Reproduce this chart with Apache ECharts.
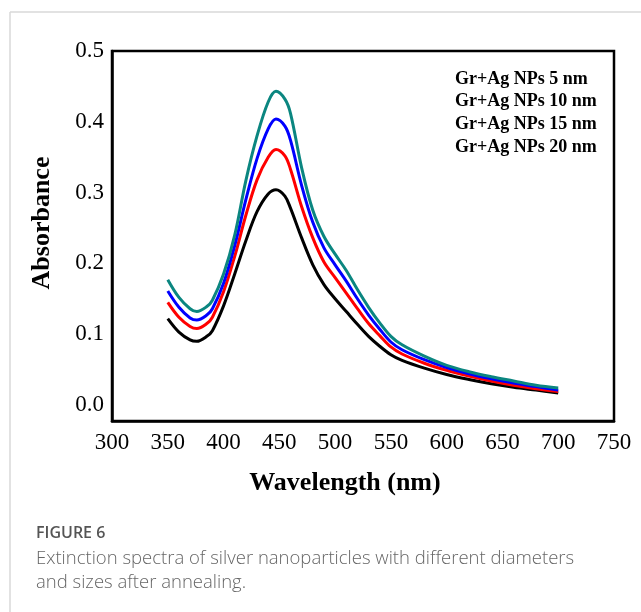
<!doctype html>
<html>
<head>
<meta charset="utf-8">
<title>Absorbance spectra</title>
<script src="https://cdn.jsdelivr.net/npm/echarts@6/dist/echarts.min.js"></script>
<style>
  html, body { margin: 0; padding: 0; background: #fff; }
  #main { width: 641px; height: 612px; }
</style>
</head>
<body>
<div id="main"></div>
<script>
// wavelengths (nm)
var wavelength = [350, 360, 370, 376, 385, 390, 400, 410, 420, 430, 440, 447, 455, 460, 470, 480, 490, 500,
                  510, 520, 530, 540, 550, 560, 580, 600, 620, 640, 660, 680, 700];
// absorbance, one array per particle size
var ag5nm  = [0.177, 0.152, 0.136, 0.132, 0.139, 0.148, 0.185, 0.240, 0.317, 0.380, 0.428, 0.443, 0.432, 0.412, 0.335, 0.275, 0.238, 0.213,
              0.190, 0.163, 0.138, 0.116, 0.097, 0.085, 0.069, 0.056, 0.047, 0.040, 0.034, 0.028, 0.024];
var ag10nm = [0.161, 0.138, 0.123, 0.120, 0.127, 0.136, 0.172, 0.225, 0.290, 0.348, 0.390, 0.404, 0.394, 0.374, 0.310, 0.258, 0.222, 0.198,
              0.175, 0.150, 0.127, 0.107, 0.089, 0.078, 0.064, 0.053, 0.044, 0.037, 0.031, 0.026, 0.021];
var ag15nm = [0.145, 0.124, 0.111, 0.108, 0.115, 0.124, 0.160, 0.210, 0.268, 0.318, 0.350, 0.361, 0.352, 0.333, 0.280, 0.236, 0.202, 0.180,
              0.158, 0.136, 0.115, 0.098, 0.082, 0.072, 0.059, 0.049, 0.041, 0.034, 0.028, 0.023, 0.019];
var ag20nm = [0.122, 0.103, 0.092, 0.090, 0.097, 0.105, 0.140, 0.185, 0.232, 0.273, 0.298, 0.304, 0.295, 0.278, 0.236, 0.198, 0.170, 0.150,
              0.132, 0.114, 0.097, 0.083, 0.071, 0.063, 0.052, 0.043, 0.036, 0.030, 0.025, 0.021, 0.017];
var seriesNames = ['Gr+Ag NPs 5 nm', 'Gr+Ag NPs 10 nm', 'Gr+Ag NPs 15 nm', 'Gr+Ag NPs 20 nm'];
var yTicks = [0, 0.1, 0.2, 0.3, 0.4, 0.5];

function pairs(ys) {
  return wavelength.map(function (x, i) { return [x, ys[i]]; });
}

var serif = '"Liberation Serif", "Times New Roman", serif';
var sans = '"Open Sans", sans-serif';
var colors = ['#0b8680', '#0000ff', '#ff0000', '#000000'];
var allData = [ag5nm, ag10nm, ag15nm, ag20nm];

var chart = echarts.init(document.getElementById('main'), null, { renderer: 'canvas' });
chart.setOption({
  animation: false,
  backgroundColor: '#fff',
  grid: {
    left: 112, top: 51, right: 27, bottom: 191,
    show: true, borderColor: '#000', borderWidth: 2.5,
    containLabel: false
  },
  legend: {
    data: seriesNames,
    orient: 'vertical',
    left: 445, top: 65,
    icon: 'none',
    itemWidth: 0, itemHeight: 18, itemGap: 4.7,
    textStyle: { fontFamily: serif, fontWeight: 'bold', fontSize: 18, color: '#000' },
    selectedMode: false
  },
  xAxis: {
    type: 'value',
    min: 300, max: 750, interval: 50,
    name: 'Wavelength (nm)',
    nameLocation: 'middle',
    nameGap: 49,
    nameTextStyle: { fontFamily: serif, fontWeight: 'bold', fontSize: 26, color: '#000', padding: [0, 36, 0, 0] },
    axisLine: { show: true, onZero: false, lineStyle: { color: '#000', width: 2.5 } },
    axisTick: { show: false },
    splitLine: { show: false },
    axisLabel: { fontFamily: serif, fontSize: 23, color: '#000', margin: 10 }
  },
  yAxis: {
    type: 'value',
    min: -0.0226, max: 0.5,
    name: 'Absorbance',
    nameLocation: 'middle',
    nameRotate: 90,
    nameGap: 57,
    nameTextStyle: { fontFamily: serif, fontWeight: 'bold', fontSize: 26, color: '#000', padding: [0, 0, 0, 26] },
    axisLine: { show: true, onZero: false, lineStyle: { color: '#000', width: 2.5 } },
    axisTick: { show: false },
    splitLine: { show: false },
    axisLabel: {
      customValues: yTicks,
      fontFamily: serif, fontSize: 23, color: '#000', margin: 8,
      formatter: function (v) { return v.toFixed(1); }
    }
  },
  series: seriesNames.map(function (name, i) {
    return {
      name: name,
      type: 'line',
      data: pairs(allData[i]),
      smooth: 0.35,
      showSymbol: false,
      z: 10 - i,
      lineStyle: { color: colors[i], width: 3 },
      itemStyle: { color: colors[i] }
    };
  }),
  graphic: [
    { type: 'line', shape: { x1: 10, y1: 12, x2: 641, y2: 12 }, style: { stroke: '#d9d9d9', lineWidth: 1.5 } },
    { type: 'line', shape: { x1: 10, y1: 12, x2: 10, y2: 612 }, style: { stroke: '#d9d9d9', lineWidth: 1.5 } },
    { type: 'text', left: 36, top: 525, style: { text: 'FIGURE 6', fontFamily: sans, fontSize: 16, fontWeight: 600, fill: '#555' } },
    { type: 'text', left: 36, top: 549, style: { text: 'Extinction spectra of silver nanoparticles with different diameters', fontFamily: sans, fontSize: 18.5, fontWeight: 300, fill: '#666' } },
    { type: 'text', left: 36, top: 573, style: { text: 'and sizes after annealing.', fontFamily: sans, fontSize: 18.5, fontWeight: 300, fill: '#666' } }
  ]
});
</script>
</body>
</html>
